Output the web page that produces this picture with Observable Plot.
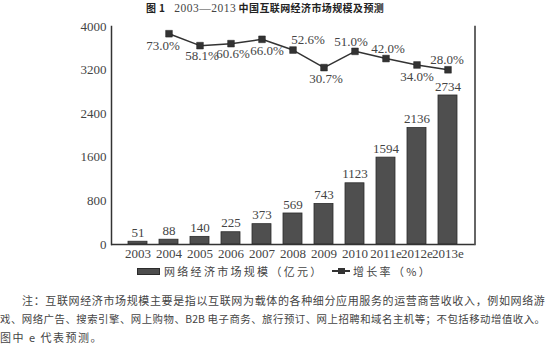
<!DOCTYPE html>
<html><head><meta charset="utf-8">
<script src="https://cdn.jsdelivr.net/npm/d3@7"></script>
<script src="https://cdn.jsdelivr.net/npm/@observablehq/plot@0.6"></script>
<style>
body{margin:0;background:#fff;width:550px;height:356px;overflow:hidden;font-family:"Noto Sans CJK SC",sans-serif;color:#333}
#title{height:16px;line-height:16px;font-size:10px;padding-left:146px;white-space:nowrap;color:#222}
#title b{letter-spacing:0.4px}
#title .serif{font-family:"Liberation Serif",serif;font-size:11.5px;letter-spacing:0.5px;color:#444}
#chart{height:248px}
#legend{height:14px;line-height:14px;font-size:11px;color:#444;white-space:nowrap;position:relative}
.lg{position:absolute;top:0;display:flex;align-items:center;height:14px;letter-spacing:2.3px}
.swb{display:inline-block;width:21px;height:5px;background:#4d4d4d;border:1px solid #2b2b2b;margin-right:4px}
.swl{display:inline-block;width:18px;height:14px;position:relative;margin-right:3px}
.swl:before{content:"";position:absolute;left:0;right:0;top:6px;height:1.5px;background:#333}
.swl:after{content:"";position:absolute;left:6px;top:3.5px;width:6.5px;height:6.5px;background:#333}
#note{margin-top:13px;font-size:11px;line-height:18.5px;color:#444;white-space:nowrap}
#note div{text-align:justify;text-align-last:justify;letter-spacing:0.2px;overflow:visible}
#note .l2{font-size:10.4px;letter-spacing:0}
#note .l3{text-align-last:left;letter-spacing:1.5px}
</style></head><body>
<div id="title"><b>图 1</b>&nbsp;&nbsp;&nbsp;&nbsp;<span class="serif">2003—2013</span> <b>中国互联网经济市场规模及预测</b></div>
<div id="chart"></div>
<div id="legend">
  <div class="lg" style="left:137px"><span class="swb"></span><span id="lgBar"></span></div>
  <div class="lg" style="left:332px"><span class="swl"></span><span id="lgLine"></span></div>
</div>
<div id="note">
  <div style="margin-left:22px;width:523px">注：互联网经济市场规模主要是指以互联网为载体的各种细分应用服务的运营商营收收入，例如网络游</div>
  <div class="l2" style="width:545px">戏、网络广告、搜索引擎、网上购物、B2B 电子商务、旅行预订、网上招聘和域名主机等；不包括移动增值收入。</div>
  <div class="l3">图中 e 代表预测。</div>
</div>
<script>
// ---- data ----
const years = ["2003","2004","2005","2006","2007","2008","2009","2010","2011e","2012e","2013e"];
const market = [51, 88, 140, 225, 373, 569, 743, 1123, 1594, 2136, 2734];
const rateYears = ["2004","2005","2006","2007","2008","2009","2010","2011e","2012e","2013e"];
const rates = [73.0, 58.1, 60.6, 66.0, 52.6, 30.7, 51.0, 42.0, 34.0, 28.0];
const yTicks = [0, 800, 1600, 2400, 3200, 4000];
const seriesNames = ["网络经济市场规模（亿元）", "增长率（%）"];
// secondary (hidden) axis range for the growth-rate line
const rateAxisDomain = [-190, 82];
// label nudges (like manual label placement in the original)
const rateLabelNudge = [
  {dx:-6, dy:12}, {dx:2, dy:10}, {dx:2, dy:10}, {dx:5, dy:12}, {dx:15, dy:-10},
  {dx:2, dy:11}, {dx:-4, dy:-10}, {dx:2, dy:-10}, {dx:0, dy:12}, {dx:-1, dy:-10}
];

document.getElementById("lgBar").textContent = seriesNames[0];
document.getElementById("lgLine").textContent = seriesNames[1];

const toPrimary = d3.scaleLinear().domain(rateAxisDomain).range([0, 4000]);
const barData = years.map((y, i) => ({year: y, value: market[i]}));
const rateData = rateYears.map((y, i) => ({year: y, rate: rates[i], v: toPrimary(rates[i]), label: rates[i].toFixed(1) + "%"}));

const serif = "'Liberation Serif', 'Times New Roman', serif";
const chart = Plot.plot({
  width: 550,
  height: 248,
  marginTop: 10,
  marginBottom: 20,
  marginLeft: 111,
  marginRight: 75.5,
  style: {fontFamily: serif, fontSize: "13px", color: "#444", background: "#fff"},
  x: {domain: years, padding: 0.38, label: null},
  y: {domain: [0, 4000], label: null},
  marks: [
    Plot.barY(barData, {x: "year", y: "value", fill: "#4f4f4f", stroke: "#2b2b2b", strokeWidth: 0.8}),
    Plot.text(barData, {x: "year", y: "value", text: d => String(d.value), dy: -9, fill: "#444", fontSize: 13, fontFamily: serif}),
    Plot.axisY({ticks: yTicks, tickFormat: d => String(d), tickSize: 0, tickPadding: 5, label: null, fill: "#444", fontSize: 13, fontFamily: serif}),
    Plot.axisX({tickSize: 0, tickPadding: 4, label: null, fill: "#444", fontSize: 13, fontFamily: serif}),
    Plot.frame({anchor: "left", stroke: "#333", strokeWidth: 1.5}),
    Plot.frame({anchor: "right", stroke: "#333", strokeWidth: 1.5}),
    Plot.ruleY([0], {stroke: "#333", strokeWidth: 1.5}),
    Plot.line(rateData, {x: "year", y: "v", stroke: "#333", strokeWidth: 1.5}),
    Plot.dot(rateData, {x: "year", y: "v", symbol: "square", r: 3.8, fill: "#333", stroke: "#222", strokeWidth: 0.5}),
    ...rateData.map((d, i) => Plot.text([d], {x: "year", y: "v", text: "label", dx: rateLabelNudge[i].dx, dy: rateLabelNudge[i].dy, fill: "#444", fontSize: 13, fontFamily: serif}))
  ]
});
document.getElementById("chart").append(chart);
</script>
</body></html>
